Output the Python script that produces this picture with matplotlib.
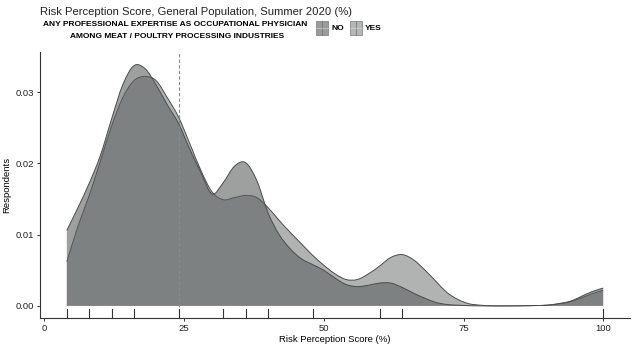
import numpy as np
import matplotlib.pyplot as plt
from matplotlib.patches import Rectangle, PathPatch
from matplotlib.lines import Line2D
from matplotlib.path import Path

plt.rcParams['font.family'] = ['Liberation Sans', 'DejaVu Sans']

# risk perception score grid (%) and density estimates
score = np.arange(4, 101, 2)
dens_no = [0.0106, 0.0138, 0.0172, 0.0211, 0.0262, 0.0310, 0.0337, 0.0333, 0.0310, 0.0282,
           0.0256, 0.0220, 0.0187, 0.0157, 0.0173, 0.0196, 0.0201, 0.0176, 0.0131, 0.0100,
           0.0080, 0.0066, 0.0058, 0.0050, 0.0039, 0.0030, 0.0027, 0.0029, 0.0032, 0.0032,
           0.0026, 0.0018, 0.0011, 0.0005, 0.0002, 0.0001, 0.00003, 0.0, 0.0, 0.0,
           0.0, 0.00002, 0.00005, 0.0001, 0.0003, 0.0006, 0.0013, 0.0020, 0.0025]
dens_yes = [0.0062, 0.0112, 0.0155, 0.0203, 0.0252, 0.0292, 0.0316, 0.0322, 0.0316, 0.0292,
            0.0265, 0.0228, 0.0190, 0.0160, 0.0149, 0.0152, 0.0155, 0.0152, 0.0138, 0.0120,
            0.0103, 0.0087, 0.0071, 0.0057, 0.0045, 0.0037, 0.0037, 0.0045, 0.0056, 0.0068,
            0.0072, 0.0065, 0.0051, 0.0035, 0.0019, 0.0009, 0.0003, 0.0001, 0.0, 0.0,
            0.0, 0.00002, 0.00005, 0.0001, 0.0003, 0.0006, 0.0011, 0.0017, 0.0022]
rug_scores = [4, 8, 12, 16, 24, 32, 36, 40, 48, 60, 64, 100]
median_score = 24

groups = ['NO', 'YES']
yes_col = '#b1b3b3'
no_col = '#5d6060'
line_col = '#4a4c4c'


def smooth_path(x, y, closed=False):
    # draw the read points as a smooth (Catmull-Rom style) bezier curve
    pts = np.column_stack([x, y]).astype(float)
    ext = np.vstack([pts[0], pts, pts[-1]])
    verts = [pts[0]]
    codes = [Path.MOVETO]
    for i in range(len(pts) - 1):
        p0, p1, p2, p3 = ext[i], ext[i + 1], ext[i + 2], ext[i + 3]
        c1 = p1 + (p2 - p0) / 6
        c2 = p2 - (p3 - p1) / 6
        verts += [c1, c2, p2]
        codes += [Path.CURVE4] * 3
    if closed:
        verts += [(x[-1], 0), (x[0], 0), pts[0]]
        codes += [Path.LINETO, Path.LINETO, Path.CLOSEPOLY]
    return Path(verts, codes)


W, H = 632, 345
fig = plt.figure(figsize=(W / 100, H / 100), dpi=100)
ax = fig.add_axes([40 / W, 1 - 318 / H, 590 / W, (318 - 51.5) / H])


def fx(px):
    return px / W


def fy(py):
    return 1 - py / H


ax.add_patch(PathPatch(smooth_path(score, dens_yes, True), facecolor=yes_col, lw=0))
ax.add_patch(PathPatch(smooth_path(score, dens_yes), facecolor='none', edgecolor=line_col, lw=0.7))
ax.add_patch(PathPatch(smooth_path(score, dens_no, True), facecolor=no_col, alpha=0.6, lw=0))
ax.add_patch(PathPatch(smooth_path(score, dens_no), facecolor='none', edgecolor=line_col, lw=0.7))

ax.axvline(median_score, color='#8a8a8a', lw=0.8, ls=(0, (3, 2)))
for r in rug_scores:
    ax.plot([r, r], [0, 0.035], color='#333333', lw=0.8,
            transform=ax.get_xaxis_transform(), clip_on=False)

ax.set_xlim(-0.8, 104.8)
ax.set_ylim(-0.0017, 0.0357)
ax.set_xticks([0, 25, 50, 75, 100])
ax.set_yticks([0, 0.01, 0.02, 0.03])
ax.set_yticklabels(['0.00', '0.01', '0.02', '0.03'])
ax.tick_params(labelsize=6.8, length=2.5, width=0.7, color='#333333',
               labelcolor='#222222', pad=2)
for s in ['top', 'right']:
    ax.spines[s].set_visible(False)
for s in ['left', 'bottom']:
    ax.spines[s].set_color('#333333')
    ax.spines[s].set_linewidth(0.8)

ax.set_xlabel('Risk Perception Score (%)', fontsize=6.8, labelpad=1.5)
ax.set_ylabel('Respondents', fontsize=6.8, labelpad=3)

fig.text(fx(40), fy(12), 'Risk Perception Score, General Population, Summer 2020 (%)',
         fontsize=8.1, va='center', ha='left', color='#222222')

fig.text(fx(175), fy(25), 'ANY PROFESSIONAL EXPERTISE AS OCCUPATIONAL PHYSICIAN',
         fontsize=6.0, fontweight='bold', ha='center', va='center')
fig.text(fx(177), fy(36), 'AMONG MEAT / POULTRY PROCESSING INDUSTRIES',
         fontsize=6.0, fontweight='bold', ha='center', va='center')

key_cols = ['#9a9c9c', '#b5b7b7']
key_x = [316, 350]
lab_x = [332, 365]
for g, c, kx, lx in zip(groups, key_cols, key_x, lab_x):
    fig.add_artist(Rectangle((fx(kx), fy(35)), 12 / W, 14 / H, transform=fig.transFigure,
                             facecolor=c, edgecolor='#777777', lw=0.5))
    fig.add_artist(Line2D([fx(kx + 6), fx(kx + 6)], [fy(35), fy(21)],
                          transform=fig.transFigure, color='#6e7070', lw=0.5))
    fig.add_artist(Line2D([fx(kx), fx(kx + 12)], [fy(28), fy(28)],
                          transform=fig.transFigure, color='#cfd0d0', lw=0.5))
    fig.text(fx(lx), fy(29), g, fontsize=6.0, fontweight='bold', ha='left', va='center')

plt.savefig('out.png', dpi=100)
